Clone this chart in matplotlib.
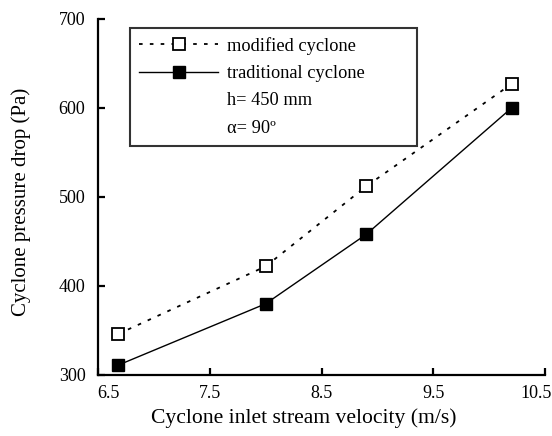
import matplotlib
matplotlib.use("Agg")
import matplotlib.pyplot as plt
from matplotlib.lines import Line2D
from matplotlib.transforms import ScaledTranslation

plt.rcParams['font.family'] = ['Liberation Serif', 'DejaVu Serif']

# data
velocity = [6.68, 8.0, 8.9, 10.2]
modified_dp = [346, 422, 512, 627]
traditional_dp = [311, 380, 458, 600]
x_ticks = [6.5, 7.5, 8.5, 9.5, 10.5]
y_ticks = [300, 400, 500, 600, 700]

fig = plt.figure(figsize=(5.52, 4.36), dpi=100)
ax = fig.add_axes([0.1775, 0.14, 0.81, 0.8165])

ax.plot(velocity, modified_dp, color='black', linestyle=(0, (2, 4)), linewidth=1.3,
        marker='s', markersize=8, markerfacecolor='white', markeredgecolor='black',
        markeredgewidth=1.3, label='modified cyclone')
ax.plot(velocity, traditional_dp, color='black', linestyle='-', linewidth=1.0,
        marker='s', markersize=8, markerfacecolor='black', markeredgecolor='black',
        label='traditional cyclone')

ax.set_xlim(6.5, 10.5)
ax.set_ylim(300, 700)
ax.set_xticks(x_ticks)
ax.set_yticks(y_ticks)
ax.set_xticklabels([f'{v:g}' for v in x_ticks])

for side in ['top', 'right']:
    ax.spines[side].set_visible(False)
for side in ['left', 'bottom']:
    ax.spines[side].set_linewidth(1.6)

ax.tick_params(direction='in', length=5, width=1.6, labelsize=13, colors='black')
ax.tick_params(axis='x', pad=7)
ax.tick_params(axis='y', pad=9)

# first and last x labels sit inside the axis ends, as in the original
xlabels = ax.get_xticklabels()
xlabels[0].set_transform(xlabels[0].get_transform() + ScaledTranslation(10 / 100, 0, fig.dpi_scale_trans))
xlabels[-1].set_transform(xlabels[-1].get_transform() + ScaledTranslation(-9 / 100, 0, fig.dpi_scale_trans))

ax.set_xlabel('Cyclone inlet stream velocity (m/s)', fontsize=15.6, labelpad=5, x=0.461)
ax.set_ylabel('Cyclone pressure drop (Pa)', fontsize=15, labelpad=20, y=0.486)

handles, labels = ax.get_legend_handles_labels()
blank = Line2D([], [], color='none')
handles += [blank, blank]
labels += ['h= 450 mm', 'α= 90º']
leg = ax.legend(handles, labels, loc='upper left',
                bbox_to_anchor=(0.0716, 0.0, 0.642, 0.975), mode='expand',
                fontsize=13.2, frameon=True, fancybox=False, handlelength=4.3,
                handletextpad=0.5, labelspacing=0.56, borderpad=0.5,
                borderaxespad=0, edgecolor='black')
leg.get_frame().set_linewidth(1.5)

fig.savefig('out.png', dpi=100)
